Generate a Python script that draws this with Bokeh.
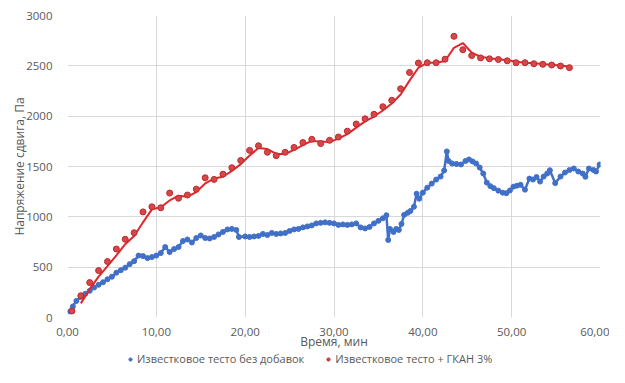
from bokeh.plotting import figure
from bokeh.layouts import column
from bokeh.models import ColumnDataSource, Legend, LegendItem, CustomJSTickFormatter, FixedTicker, Range1d
from bokeh.embed import file_html
from bokeh.resources import INLINE

# Red series: "Известковое тесто + ГКАН 3%"
red_t = [0.5, 1.5, 2.5, 3.5, 4.5, 5.5, 6.5, 7.5, 8.5, 9.5, 10.5, 11.5, 12.5, 13.5, 14.5, 15.5,
         16.5, 17.5, 18.5, 19.5, 20.5, 21.5, 22.5, 23.5, 24.5, 25.5, 26.5, 27.5, 28.5, 29.5,
         30.5, 31.5, 32.5, 33.5, 34.5, 35.5, 36.5, 37.5, 38.5, 39.5, 40.5, 41.5, 42.5, 43.5,
         44.5, 45.5, 46.5, 47.5, 48.5, 49.5, 50.5, 51.5, 52.5, 53.5, 54.5, 55.5, 56.5]
red_v = [65, 216, 347, 466, 556, 680, 777, 842, 1049, 1100, 1090, 1236, 1184, 1217, 1275, 1388,
         1372, 1424, 1488, 1560, 1660, 1706, 1641, 1608, 1641, 1689, 1738, 1770, 1728, 1760,
         1793, 1851, 1922, 1974, 2019, 2094, 2158, 2272, 2434, 2528, 2531, 2531, 2566, 2793,
         2660, 2602, 2579, 2570, 2563, 2550, 2531, 2531, 2521, 2515, 2508, 2498, 2482]

# Blue series: "Известковое тесто без добавок"
blue_t = [0.3, 0.6, 1.0, 1.5, 2.0, 2.5, 3.0, 3.5, 4.0, 4.5, 5.0, 5.5, 6.0, 6.5, 7.0, 7.5, 8.0,
          8.5, 9.0, 9.5, 10.0, 10.5, 11.0, 11.5, 12.0, 12.5, 13.0, 13.5, 14.0, 14.5, 15.0, 15.5,
          16.0, 16.5, 17.0, 17.5, 18.0, 18.5, 19.0, 19.3, 20.0, 20.5, 21.0, 21.5, 22.0, 22.5,
          23.0, 23.5, 24.0, 24.5, 25.0, 25.5, 26.0, 26.5, 27.0, 27.5, 28.0, 28.5, 29.0, 29.5,
          30.0, 30.5, 31.0, 31.5, 32.0, 32.5, 33.0, 33.5, 34.0, 34.5, 35.0, 35.5, 35.9, 36.1,
          36.3, 36.7, 37.0, 37.3, 37.6, 37.9, 38.3, 38.6, 39.0, 39.3, 39.6, 40.0, 40.5, 41.0,
          41.5, 42.0, 42.4, 42.7, 42.9, 43.3, 43.8, 44.3, 44.8, 45.2, 45.6, 46.0, 46.4, 46.8,
          47.2, 47.6, 48.0, 48.5, 49.0, 49.4, 49.8, 50.2, 50.6, 51.0, 51.5, 52.0, 52.4, 52.8,
          53.2, 53.6, 54.0, 54.3, 54.9, 55.5, 56.0, 56.5, 57.0, 57.5, 58.0, 58.3, 58.7, 59.2,
          59.5, 59.9]
blue_v = [60, 110, 165, 205, 235, 265, 298, 325, 350, 380, 405, 445, 470, 495, 530, 560, 615,
          610, 590, 600, 615, 640, 700, 650, 680, 700, 760, 775, 745, 790, 815, 790,
          785, 800, 825, 850, 875, 880, 870, 800, 805, 800, 805, 810, 830, 820,
          840, 830, 835, 840, 860, 875, 880, 895, 905, 915, 935, 940, 945, 940,
          935, 920, 925, 920, 925, 935, 895, 885, 900, 935, 960, 985, 1016, 770,
          880, 850, 880, 870, 930, 1020, 1040, 1058, 1100, 1230, 1180, 1240, 1290, 1330,
          1370, 1400, 1460, 1650, 1555, 1530, 1525, 1520, 1555, 1570, 1550, 1530, 1490, 1430,
          1340, 1305, 1285, 1260, 1240, 1235, 1262, 1300, 1310, 1318, 1270, 1380, 1370, 1395,
          1350, 1400, 1430, 1463, 1335, 1400, 1440, 1465, 1480, 1450, 1430, 1398, 1480, 1465,
          1450, 1520]

x_ticks = [0, 10, 20, 30, 40, 50, 60]
y_ticks = [0, 500, 1000, 1500, 2000, 2500, 3000]

series_names = ["Известковое тесто без добавок", "Известковое тесто + ГКАН 3%"]
x_label = "Время, мин"
y_label = "Напряжение сдвига, Па"

# moving average trendline (period 2) for red series
red_ma_t = red_t[1:]
red_ma_v = [(red_v[i - 1] + red_v[i]) / 2 for i in range(1, len(red_v))]

FONT = "Open Sans"
GRAY = "#595959"
BLUE = "#4170C8"
RED = "#E3262B"
RED_MK_FILL = "#D4484A"
RED_MK_LINE = "#C0282C"

p = figure(width=609, height=352, output_backend="svg", toolbar_location=None,
           x_range=Range1d(0, 60), y_range=Range1d(0, 3000),
           min_border_left=67, min_border_right=9, min_border_top=15, min_border_bottom=30)
p.outline_line_color = None
p.background_fill_color = "white"

blue_src = ColumnDataSource(dict(t=blue_t, v=blue_v))
red_src = ColumnDataSource(dict(t=red_t, v=red_v))
red_ma_src = ColumnDataSource(dict(t=red_ma_t, v=red_ma_v))

p.line("t", "v", source=blue_src, line_color=BLUE, line_width=2.5)
p.scatter("t", "v", source=blue_src, size=5, fill_color=BLUE, line_color=BLUE)
p.line("t", "v", source=red_ma_src, line_color=RED, line_width=2)
p.scatter("t", "v", source=red_src, size=6, fill_color=RED_MK_FILL, line_color=RED_MK_LINE)

for ax in (p.xaxis[0], p.yaxis[0]):
    ax.axis_line_color = None
    ax.major_tick_line_color = None
    ax.minor_tick_line_color = None
    ax.major_label_text_color = GRAY
    ax.major_label_text_font = FONT
    ax.major_label_text_font_size = "11.5px"
    ax.axis_label_text_color = GRAY
    ax.axis_label_text_font = FONT
    ax.axis_label_text_font_size = "12px"
    ax.axis_label_text_font_style = "normal"

p.xaxis.ticker = FixedTicker(ticks=x_ticks)
p.yaxis.ticker = FixedTicker(ticks=y_ticks)
p.xaxis.formatter = CustomJSTickFormatter(code="return tick.toFixed(2).replace('.', ',');")
p.xaxis.axis_label = x_label
p.yaxis.axis_label = y_label
p.xaxis.major_label_standoff = 4
p.xaxis.axis_label_standoff = -6
p.yaxis.major_label_standoff = 9
p.yaxis.axis_label_standoff = -5

p.xgrid.grid_line_color = "#D9D9D9"
p.ygrid.grid_line_color = "#D9D9D9"

# Legend strip below the chart (dummy points lie outside its visible range)
lg = figure(width=609, height=15, output_backend="svg", toolbar_location=None,
            x_range=Range1d(0, 1), y_range=Range1d(0, 1),
            min_border_left=0, min_border_right=0, min_border_top=0, min_border_bottom=0)
lg.outline_line_color = None
lg.xaxis.visible = False
lg.yaxis.visible = False
lg.xgrid.grid_line_color = None
lg.ygrid.grid_line_color = None
lb = lg.scatter(x=[-5], y=[-5], size=5, fill_color=BLUE, line_color=BLUE)
lr = lg.scatter(x=[-5], y=[-5], size=6, fill_color=RED_MK_FILL, line_color=RED_MK_LINE)

legend = Legend(items=[LegendItem(label=series_names[0], renderers=[lb]),
                       LegendItem(label=series_names[1], renderers=[lr])],
                orientation="horizontal", location=(59, 1),
                label_text_font=FONT, label_text_font_size="11px", label_text_color=GRAY,
                glyph_width=8, glyph_height=8, spacing=20, padding=0, margin=0,
                label_standoff=3, border_line_color=None, background_fill_alpha=0,
                label_height=12)
lg.add_layout(legend, "center")

layout = column(p, lg, spacing=0)
open("out.html", "w").write(file_html(layout, INLINE))
